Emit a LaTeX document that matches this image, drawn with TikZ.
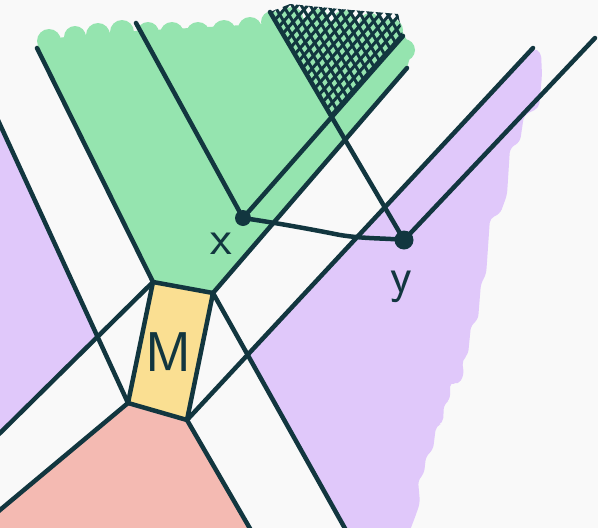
\documentclass[tikz,border=0pt]{standalone}
\usepackage{tikz}
\usetikzlibrary{calc}
\definecolor{ink}{HTML}{12363F}
\definecolor{paper}{HTML}{F9F9F9}
\definecolor{leaf}{HTML}{95E4AF}
\definecolor{lilac}{HTML}{E0C8FA}
\definecolor{sand}{HTML}{FADF92}
\definecolor{blush}{HTML}{F4BAB2}

\begin{document}
\begin{tikzpicture}[x=1pt,y=-1pt,
		stroke/.style={draw=ink,line width=4.5pt,line cap=round,line join=round},
		hatchline/.style={draw=ink,line width=3pt,line cap=round},
		lbl/.style={text=ink,inner sep=0pt,font=\sffamily\fontsize{50}{50}\selectfont}]
	\useasboundingbox (0,0) rectangle (598,528); % window of the whole sketch
	\fill[paper] (0,0) rectangle (598,528);
	\clip (0,0) rectangle (598,528);
	% corners of the box M
	\coordinate (Mtl) at (153,282);
	\coordinate (Mtr) at (213,293);
	\coordinate (Mbr) at (187,420);
	\coordinate (Mbl) at (128,403);
	% the two points
	\coordinate (X) at (243,218);
	\coordinate (Y) at (404,240);
	% free ends of the lines
	\coordinate (tl) at (37,48);
	\coordinate (tlb) at (-5,438);
	\coordinate (bl) at (-3,118);
	\coordinate (blb) at (-6,515);
	\coordinate (tr) at (407,68);
	\coordinate (trb) at (347,532);
	\coordinate (br) at (533,48);
	\coordinate (brb) at (252,532);
	\coordinate (xtop) at (136,23);
	\coordinate (xend) at (403,36);
	\coordinate (ytop) at (270,12);
	\coordinate (yend) at (595,38);
	% green region above M, with its brushed top
	\fill[leaf] (Mtl) -- (tl) -- (40,40) -- (100,33) -- (262,24) -- (290,17) -- (400,27)
		-- (412,50) -- (tr) -- (Mtr) -- cycle;
	\foreach \x/\y/\r in {49/41/12,75/37/11,98/35/12,122/32/12,148/33/11,172/34/12,198/34/12,
			224/32/12,250/29/12,272/22/11,292/18/11,318/20/11,344/21/11,370/24/11,392/30/11,404/50/11}
		\fill[leaf] (\x,\y) circle (\r pt);
	% purple regions
	\fill[lilac, rounded corners=5pt] (intersection of Mbr--br and Mtr--trb) -- (br) -- (541,52)
		-- (542,75) -- (539,108) -- (524,115) -- (520,142) -- (510,148) -- (507,195) -- (500,214)
		-- (490,218) -- (487,262) -- (486,275) -- (481,283) -- (478,320) -- (471,325) -- (468,355)
		-- (462,360) -- (464,375) -- (458,385) -- (450,382) -- (450,400) -- (444,404) -- (443,423)
		-- (436,426) -- (433,450) -- (426,456) -- (424,474) -- (418,480) -- (420,503) -- (414,520)
		-- (408,535) -- (trb) -- cycle;
	\fill[lilac] (bl) -- (intersection of bl--Mbl and tlb--Mtl) -- (tlb) -- cycle;
	% pink region below M
	\fill[blush] (Mbl) -- (Mbr) -- (brb) -- (-5,532) -- (blb) -- cycle;
	% the box M
	\fill[sand] (Mtl) -- (Mtr) -- (Mbr) -- (Mbl) -- cycle;
	% cross hatching where the two cones meet
	\begin{scope}
		\clip (ytop) -- (331,117) -- (xend) -- (398,14) -- (340,9) -- (290,4) -- cycle;
		\foreach \s in {0,9,...,162}
			\draw[hatchline] (250+\s,-20) -- ++(90,150);
		\foreach \s in {0,10,...,220}
			\draw[hatchline] (260+\s,-20) -- ++(-160,182);
	\end{scope}
	% lines through the corners of M
	\draw[stroke] (Mtl) -- (Mtr) -- (Mbr) -- (Mbl) -- cycle;
	\draw[stroke] (Mtl) -- (tl);
	\draw[stroke] (Mtl) -- (tlb);
	\draw[stroke] (Mbl) -- (bl);
	\draw[stroke] (Mbl) -- (blb);
	\draw[stroke] (Mtr) -- (tr);
	\draw[stroke] (Mtr) -- (trb);
	\draw[stroke] (Mbr) -- (br);
	\draw[stroke] (Mbr) -- (brb);
	% cones of x and y
	\draw[stroke] (xtop) -- (X) -- (xend);
	\draw[stroke] (ytop) -- (Y) -- (yend);
	\draw[stroke] (X) .. controls (270,222) and (305,228) .. (340,235)
		.. controls (365,239) and (385,238) .. (Y);
	\fill[ink] (X) circle (8pt);
	\fill[ink] (Y) circle (9.5pt);
	% labels
	\node[lbl] (xlab) at (221,244) {x};
	\node[lbl] (ylab) at (401,287) {y};
	\node[lbl,font=\sffamily\fontsize{56}{56}\selectfont] (mlab) at (168,352) {M};
\end{tikzpicture}
\end{document}
